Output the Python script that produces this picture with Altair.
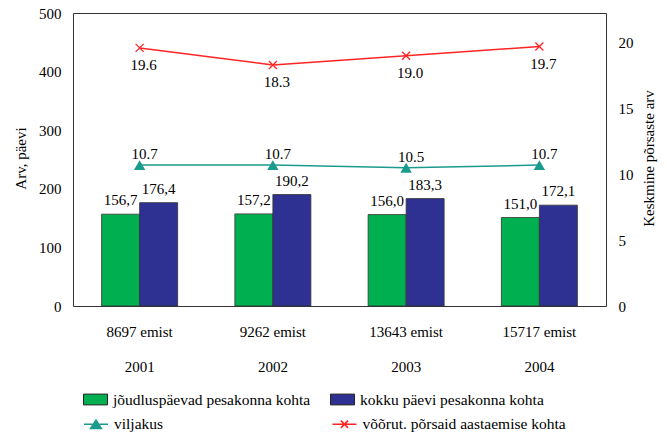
import json

import altair as alt
import pandas as pd

# ---- data -------------------------------------------------------------
years = ["2001", "2002", "2003", "2004"]
herd_sizes = ["8697 emist", "9262 emist", "13643 emist", "15717 emist"]

work_days = [156.7, 157.2, 156.0, 151.0]      # jõudluspäevad pesakonna kohta
total_days = [176.4, 190.2, 183.3, 172.1]     # kokku päevi pesakonna kohta
fertility = [10.7, 10.7, 10.5, 10.7]          # viljakus
weaned = [19.6, 18.3, 19.0, 19.7]             # võõrut. põrsaid aastaemise kohta

bar_names = ["jõudluspäevad pesakonna kohta", "kokku päevi pesakonna kohta"]
line_names = ["viljakus", "võõrut. põrsaid aastaemise kohta"]
bar_colors = ["#00B050", "#2E3192"]
line_colors = ["#1B9A8E", "#FF2424"]

bars_df = pd.DataFrame({
    "year": years * 2,
    "series": [bar_names[0]] * len(years) + [bar_names[1]] * len(years),
    "value": work_days + total_days,
})
bars_df["label"] = bars_df["value"].map(lambda v: f"{v:.1f}".replace(".", ","))

lines_df = pd.DataFrame({
    "year": years * 2,
    "series": [line_names[0]] * len(years) + [line_names[1]] * len(years),
    "value": fertility + weaned,
})
lines_df["label"] = lines_df["value"].map(lambda v: f"{v:.1f}")

# ---- shared styling ---------------------------------------------------
FONT = "'Liberation Serif', 'Times New Roman', Times, serif"
W, H = 533, 293

rect_path = "M-1,-0.45H1V0.45H-1Z"
x_path = "M-1,-1L1,1M-1,1L1,-1"
legend_shapes = [
    "M-1,0H1M-0.45,0.35L0,-0.35L0.45,0.35Z",
    "M-1,0H1M-0.3,-0.3L0.3,0.3M-0.3,0.3L0.3,-0.3",
]

# two-line category labels: herd size above the year
label_expr = (
    f"[{json.dumps(herd_sizes)}[indexof({json.dumps(years)}, datum.value)], datum.value]"
)
x_enc = alt.X(
    "year:N",
    sort=years,
    scale=alt.Scale(domain=years, paddingInner=0, paddingOuter=0),
    axis=alt.Axis(
        title=None, labelExpr=label_expr, labelLineHeight=35, labelPadding=18,
        labelAngle=0, labelFontSize=15,
    ),
)
x_off = alt.XOffset(
    "series:N", sort=bar_names,
    scale=alt.Scale(domain=bar_names, paddingInner=0, paddingOuter=0.753),
)

y_left = alt.Y(
    "value:Q",
    scale=alt.Scale(domain=[0, 500], nice=False),
    axis=alt.Axis(
        title="Arv, päevi", values=[0, 100, 200, 300, 400, 500], labelPadding=12,
        titleX=-53, titleY=145, titleBaseline="middle", titleAngle=270,
    ),
)
y_right = alt.Y(
    "value:Q",
    scale=alt.Scale(domain=[0, 22.25], nice=False),
    axis=alt.Axis(
        title="Keskmine põrsaste arv", orient="right", values=[0, 5, 10, 15, 20],
        labelPadding=12, titleX=42, titleY=145, titleBaseline="middle", titleAngle=270,
    ),
)

# ---- bars ---------------------------------------------------------------
bar_legend = alt.Legend(
    title=None, orient="none", legendX=10, legendY=374, direction="horizontal",
    columns=2, columnPadding=17, symbolType=rect_path, symbolSize=576,
    symbolStrokeColor="#222222", symbolStrokeWidth=1, labelFontSize=15.5,
    labelOffset=5, labelLimit=400, padding=0,
)
bars = alt.Chart(bars_df).mark_bar(stroke="#333333", strokeWidth=0.8).encode(
    x=x_enc,
    xOffset=x_off,
    y=y_left,
    fill=alt.Fill("series:N", sort=bar_names,
                  scale=alt.Scale(domain=bar_names, range=bar_colors), legend=bar_legend),
)
bar_text = alt.Chart(bars_df).mark_text(
    baseline="middle", dy=-14, fontSize=15, color="black"
).encode(x=x_enc, xOffset=x_off, y=y_left, text="label:N")

bar_group = alt.layer(bars, bar_text)

# ---- lines ------------------------------------------------------------
def one_series(i):
    return alt.Chart(lines_df).transform_filter(alt.datum.series == line_names[i])

fert_line = one_series(0).mark_line(strokeWidth=1.5, color=line_colors[0]).encode(
    x=x_enc, y=y_right)
wean_line = one_series(1).mark_line(strokeWidth=1.5, color=line_colors[1]).encode(
    x=x_enc, y=y_right)
triangles = one_series(0).mark_point(
    shape="triangle-up", filled=True, size=130, opacity=1, color=line_colors[0]
).encode(x=x_enc, y=y_right)
crosses = one_series(1).mark_point(
    shape=x_path, filled=False, size=64, opacity=1, strokeWidth=1.3, color=line_colors[1]
).encode(x=x_enc, y=y_right)

fert_text = one_series(0).mark_text(
    baseline="middle", dx=5, dy=-11, fontSize=15, color="black"
).encode(x=x_enc, y=y_right, text="label:N")
wean_text = one_series(1).mark_text(
    baseline="middle", dx=4, dy=17, fontSize=15, color="black"
).encode(x=x_enc, y=y_right, text="label:N")

# legend keys for the two lines: a short line with the series marker
line_legend = alt.Legend(
    title=None, orient="none", legendX=10, legendY=398, direction="horizontal",
    columns=2, columnPadding=165.5, symbolSize=576, symbolStrokeWidth=1.5,
    labelFontSize=15.5, labelOffset=5, labelLimit=400, padding=0,
)
legend_keys = alt.Chart(lines_df).transform_filter("false").mark_point(
    filled=True, opacity=1, strokeWidth=1.5
).encode(
    fill=alt.Fill("series:N", sort=line_names,
                  scale=alt.Scale(domain=line_names, range=line_colors), legend=line_legend),
    stroke=alt.Stroke("series:N", sort=line_names,
                      scale=alt.Scale(domain=line_names, range=line_colors), legend=line_legend),
    shape=alt.Shape("series:N", sort=line_names,
                    scale=alt.Scale(domain=line_names, range=legend_shapes), legend=line_legend),
)

line_group = alt.layer(fert_line, wean_line, triangles, crosses, fert_text, wean_text,
                       legend_keys)

chart = (
    alt.layer(bar_group, line_group)
    .resolve_scale(y="independent", fill="independent", stroke="independent",
                   shape="independent")
    .properties(
        width=W, height=H,
        autosize=alt.AutoSizeParams(type="none"),
        padding={"left": 73, "top": 13, "right": 61, "bottom": 130},
    )
    .configure(font=FONT)
    .configure_view(stroke="#333333", strokeWidth=1)
    .configure_axis(
        labelFont=FONT, titleFont=FONT, labelFontSize=15, titleFontSize=15,
        labelColor="black", titleColor="black", titleFontWeight="normal",
        grid=False, domain=False, ticks=False,
    )
    .configure_legend(labelFont=FONT, labelColor="black")
    .configure_text(font=FONT)
)

chart.save("out.html", embed_options={"renderer": "svg", "actions": False})
